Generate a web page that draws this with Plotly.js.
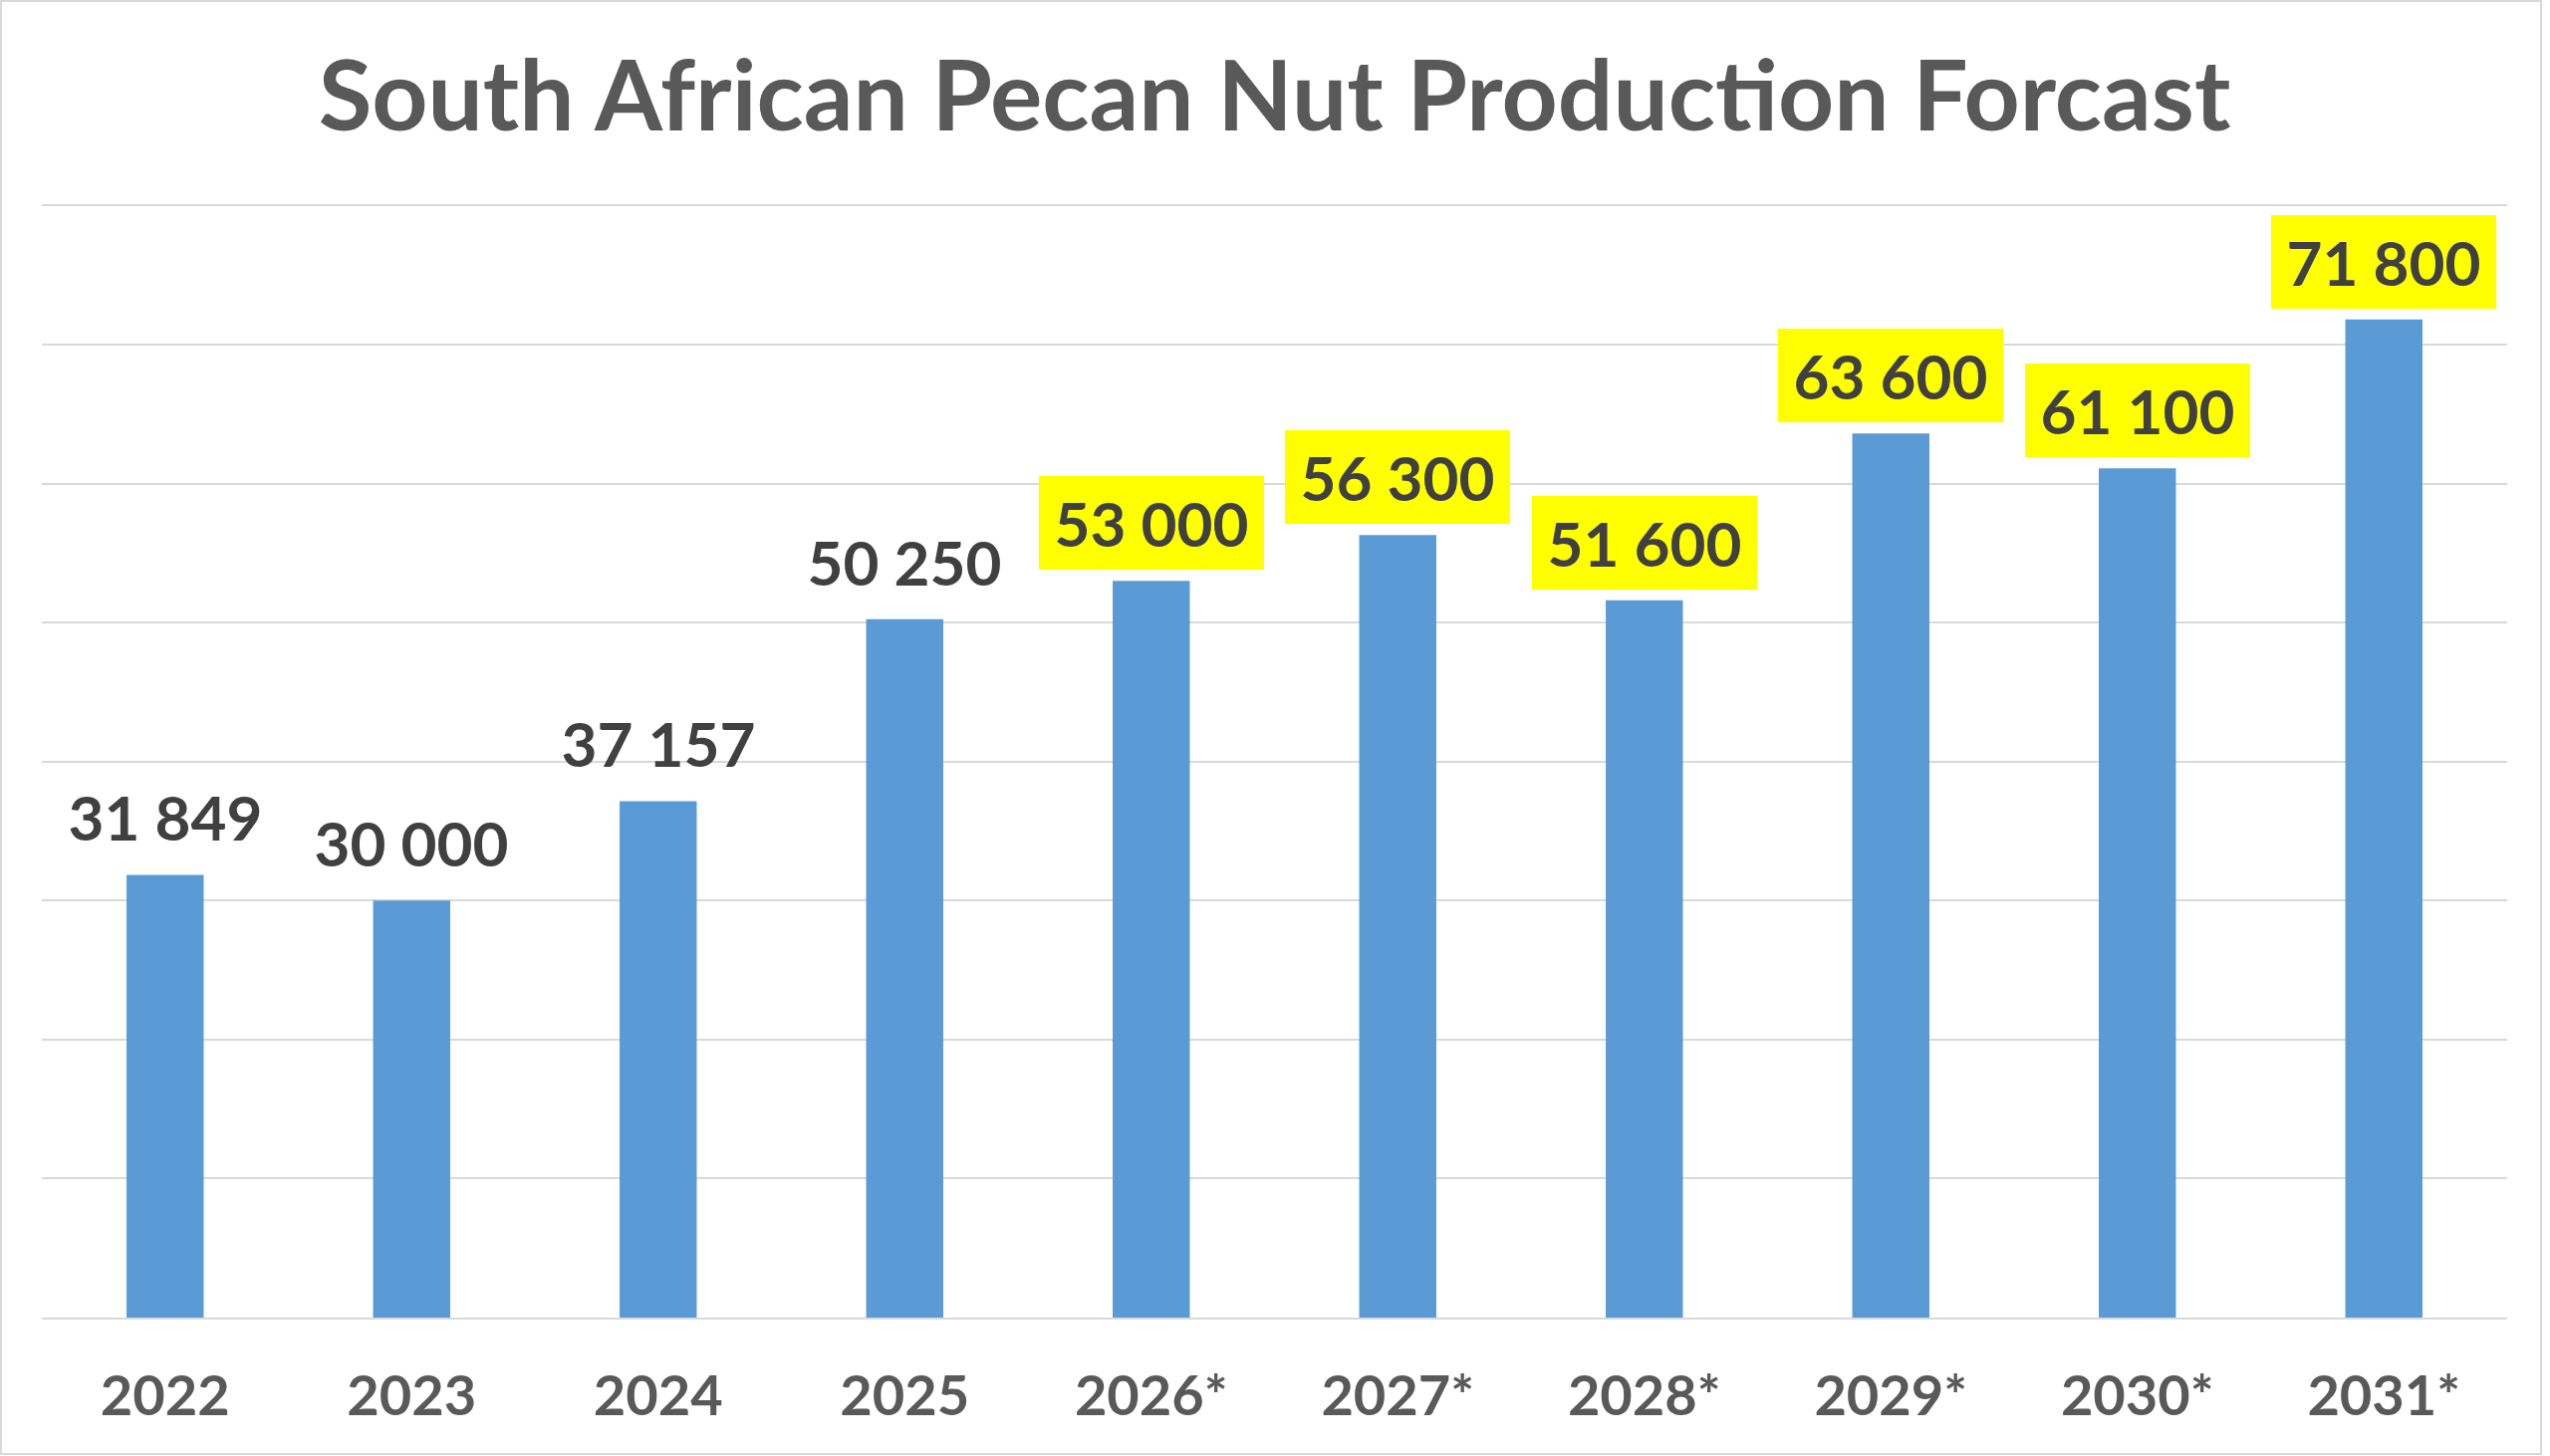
<!DOCTYPE html>
<html>
<head>
<meta charset="utf-8">
<script src="https://cdn.plot.ly/plotly-3.0.1.min.js"></script>
<style>
  html, body { margin: 0; padding: 0; background: #ffffff; }
  #wrap { position: relative; width: 2560px; height: 1462px; }
  #chart { width: 2560px; height: 1462px; }
  #frame { position: absolute; left: 0; top: 0; width: 2552px; height: 1461px; box-sizing: border-box; border: 2px solid #d9d9d9; pointer-events: none; }
</style>
</head>
<body>
<div id="wrap">
  <div id="chart"></div>
  <div id="frame"></div>
</div>
<script>
const years = ['2022', '2023', '2024', '2025', '2026*', '2027*', '2028*', '2029*', '2030*', '2031*'];
const production = [31849, 30000, 37157, 50250, 53000, 56300, 51600, 63600, 61100, 71800];
const highlighted = [false, false, false, false, true, true, true, true, true, true];
const chartTitle = 'South African Pecan Nut Production Forcast';

function spaced(v) {
  return String(v).replace(/\B(?=(\d{3})+(?!\d))/g, ' ');
}

const FONT = 'Lato, Carlito, Calibri, "Open Sans", sans-serif';

const trace = {
  type: 'bar',
  x: years,
  y: production,
  marker: { color: '#5B9BD5', line: { width: 0 } },
  hoverinfo: 'skip'
};

// On a category axis, annotation x is given as the category index.
const annotations = years.map((yr, i) => ({
  x: i,
  y: production[i],
  xref: 'x',
  yref: 'y',
  text: spaced(production[i]),
  showarrow: false,
  xanchor: 'center',
  yanchor: 'bottom',
  yshift: 11,
  width: 226,
  height: 94,
  align: 'center',
  valign: 'middle',
  bgcolor: highlighted[i] ? '#FFFF00' : 'rgba(0,0,0,0)',
  borderpad: 0,
  borderwidth: 0,
  font: { family: FONT, size: 62, color: '#404040', weight: 700 }
}));

const layout = {
  width: 2560,
  height: 1462,
  paper_bgcolor: '#ffffff',
  plot_bgcolor: '#ffffff',
  margin: { l: 42, r: 43, t: 205, b: 139, pad: 0 },
  showlegend: false,
  bargap: 0.687,
  title: {
    text: chartTitle,
    font: { family: FONT, size: 98, color: '#595959', weight: 700 },
    x: 0.5,
    xanchor: 'center',
    xref: 'paper',
    yref: 'container',
    y: 0.934,
    yanchor: 'middle'
  },
  xaxis: {
    type: 'category',
    categoryorder: 'array',
    categoryarray: years,
    range: [-0.5, years.length - 0.5],
    showgrid: false,
    showline: true,
    linecolor: '#d9d9d9',
    linewidth: 2,
    ticks: '',
    ticklabelstandoff: 29,
    tickfont: { family: FONT, size: 56, color: '#595959', weight: 700 },
    fixedrange: true
  },
  yaxis: {
    range: [0, 80100],
    tick0: 0,
    dtick: 10000,
    showgrid: true,
    gridcolor: '#d9d9d9',
    gridwidth: 2,
    zeroline: false,
    showticklabels: false,
    ticks: '',
    fixedrange: true
  },
  annotations: annotations
};

Plotly.newPlot('chart', [trace], layout, { displayModeBar: false, staticPlot: true });
</script>
</body>
</html>
